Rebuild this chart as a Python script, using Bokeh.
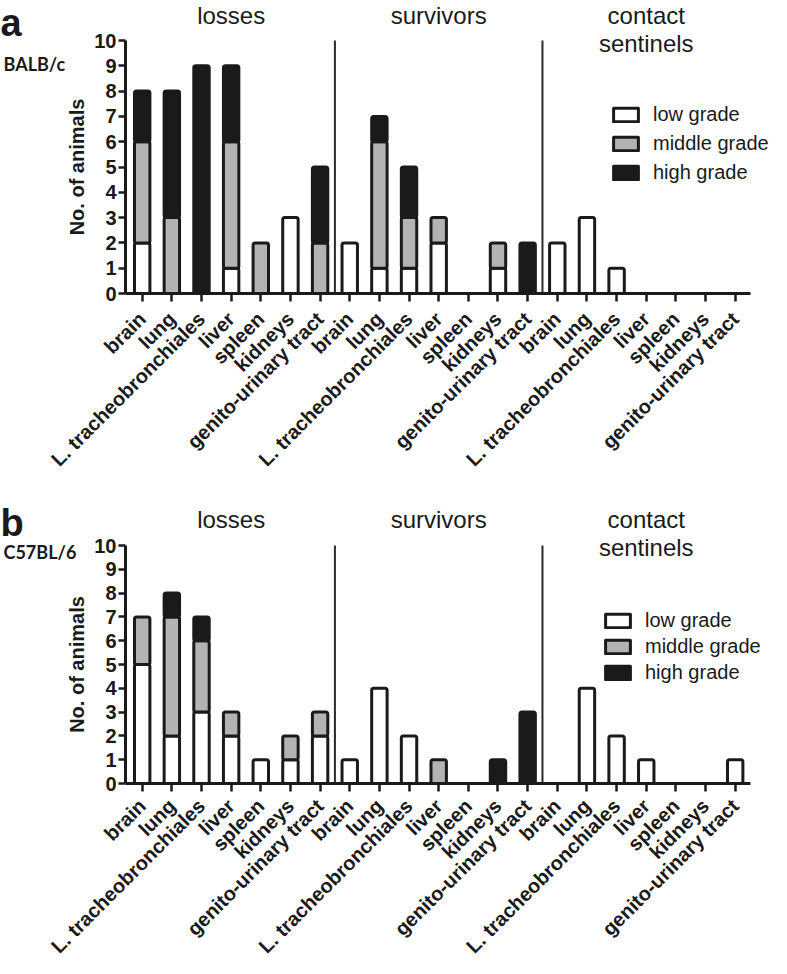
import numpy as np
from math import pi
from bokeh.plotting import figure
from bokeh.layouts import column
from bokeh.models import Range1d, FixedTicker, Label, Legend, LegendItem
from bokeh.embed import file_html
from bokeh.resources import INLINE

# ---------------- data ----------------
organs = ["brain", "lung", "L. tracheobronchiales", "liver", "spleen",
          "kidneys", "genito-urinary tract"]
groups = ["losses", "survivors", "contact sentinels"]
grades = ["low grade", "middle grade", "high grade"]

# panel a: BALB/c  (losses | survivors | contact sentinels)
balb_low = [2, 0, 0, 1, 0, 3, 0,   2, 1, 1, 2, 0, 1, 0,   2, 3, 1, 0, 0, 0, 0]
balb_mid = [4, 3, 0, 5, 2, 0, 2,   0, 5, 2, 1, 0, 1, 0,   0, 0, 0, 0, 0, 0, 0]
balb_high = [2, 5, 9, 3, 0, 0, 3,  0, 1, 2, 0, 0, 0, 2,   0, 0, 0, 0, 0, 0, 0]

# panel b: C57BL/6
c57_low = [5, 2, 3, 2, 1, 1, 2,    1, 4, 2, 0, 0, 0, 0,   0, 4, 2, 1, 0, 0, 1]
c57_mid = [2, 5, 3, 1, 0, 1, 1,    0, 0, 0, 1, 0, 0, 0,   0, 0, 0, 0, 0, 0, 0]
c57_high = [0, 1, 1, 0, 0, 0, 0,   0, 0, 0, 0, 0, 1, 3,   0, 0, 0, 0, 0, 0, 0]

y_ticks = list(range(0, 11))

FONT = "Liberation Sans"
INK = "#1a1a1a"
GREY = "#b3b3b3"
WHITE = "#ffffff"

W = 771            # figure width
AXIS_PX = 125      # y-axis position, px from left
PX_PER_CAT = 29.65
X0 = -0.563        # data x at the y axis
X_END = 20.516     # data x where the x-axis line ends


def make_panel(low, mid, high, letter, strain, height, axis_px, y10_px,
               title_px, sent_px, legend_x, legend_bottom_px, legend_spacing,
               letter_px, strain_px, label_standoff):
    n = len(low)
    x = np.arange(n)
    ppu = (axis_px - y10_px) / 10.0

    def ydata(px):
        return (axis_px - px) / ppu

    x_start = X0 - AXIS_PX / PX_PER_CAT
    p = figure(width=W, height=height,
               x_range=Range1d(x_start, x_start + W / PX_PER_CAT),
               y_range=Range1d(ydata(height), ydata(0)),
               output_backend="svg", toolbar_location=None,
               min_border=0, min_border_left=0, min_border_right=0,
               min_border_top=0, min_border_bottom=0)
    p.outline_line_color = None
    p.grid.visible = False
    p.background_fill_color = "white"

    lo = np.array(low, dtype=float)
    mi = np.array(mid, dtype=float)
    hi = np.array(high, dtype=float)
    segs = [(np.zeros(n), lo, WHITE), (lo, lo + mi, GREY), (lo + mi, lo + mi + hi, INK)]
    rends = []
    for bot, top, col in segs:
        keep = top > bot
        r = p.vbar(x=x[keep], bottom=bot[keep], top=top[keep], width=0.52,
                   fill_color=col, line_color=INK, line_width=3,
                   line_join="round", border_radius=2)
        rends.append(r)

    # group separators
    k = len(organs)
    sep = [k * g - 0.5 for g in range(1, len(groups))]
    p.segment(x0=sep, y0=[0] * len(sep), x1=sep, y1=[10] * len(sep),
              line_color="#2a2a2a", line_width=2)

    # axes (drawn at fixed data locations so that no text is clipped)
    xa = p.xaxis[0]
    xa.fixed_location = 0
    xa.bounds = (X0, X_END)
    xa.ticker = FixedTicker(ticks=list(range(n)))
    xa.major_label_overrides = {i: organs[i % k] for i in range(n)}
    xa.major_label_orientation = pi / 4
    xa.major_label_text_font = FONT
    xa.major_label_text_font_style = "bold"
    xa.major_label_text_font_size = "20px"
    xa.major_label_text_color = INK
    xa.major_label_standoff = label_standoff
    xa.axis_line_width = 3
    xa.axis_line_color = INK
    xa.major_tick_line_width = 2.5
    xa.major_tick_line_color = INK
    xa.major_tick_out = 8
    xa.major_tick_in = 0
    xa.minor_tick_line_color = None

    ya = p.yaxis[0]
    ya.fixed_location = X0
    ya.ticker = FixedTicker(ticks=y_ticks)
    ya.bounds = (0, 10)
    ya.axis_label = "No. of animals"
    ya.axis_label_text_font = FONT
    ya.axis_label_text_font_style = "bold"
    ya.axis_label_text_font_size = "20px"
    ya.axis_label_text_color = INK
    ya.axis_label_standoff = 3
    ya.major_label_text_font = FONT
    ya.major_label_text_font_style = "bold"
    ya.major_label_text_font_size = "20px"
    ya.major_label_text_color = INK
    ya.major_label_standoff = 2
    ya.axis_line_width = 3
    ya.axis_line_color = INK
    ya.major_tick_line_width = 2.5
    ya.major_tick_line_color = INK
    ya.major_tick_out = 7
    ya.major_tick_in = 0
    ya.minor_tick_line_color = None

    # group titles
    centers = [k * g + (k - 1) / 2 for g in range(len(groups))]
    for g, c in enumerate(centers):
        words = groups[g].split(" ")
        if len(words) == 1:
            lines = [(words[0], title_px)]
        else:
            lines = [(words[0], title_px), (words[1], sent_px)]
        for txt, px in lines:
            p.add_layout(Label(x=c, y=ydata(px), text=txt, text_font=FONT,
                               text_font_size="24px", text_color=INK,
                               text_align="center", text_baseline="middle"))

    # panel letter and strain
    p.add_layout(Label(x=0, y=height - letter_px, x_units="screen", y_units="screen",
                       text=letter, text_font=FONT, text_font_style="bold",
                       text_font_size="38px", text_color=INK,
                       text_align="left", text_baseline="alphabetic"))
    p.add_layout(Label(x=3, y=height - strain_px, x_units="screen", y_units="screen",
                       text=strain, text_font="Lato", text_font_style="bold",
                       text_font_size="18px", text_color=INK,
                       text_align="left", text_baseline="middle"))

    legend = Legend(items=[LegendItem(label=grades[i], renderers=[rends[i]]) for i in range(3)],
                    location=(legend_x, height - legend_bottom_px), orientation="vertical",
                    glyph_width=31, glyph_height=17, label_standoff=12,
                    spacing=legend_spacing, padding=0, margin=0, label_height=24,
                    border_line_color=None, background_fill_alpha=0,
                    label_text_font=FONT, label_text_font_size="20px",
                    label_text_color=INK)
    p.add_layout(legend)
    return p


TOP_B = 478  # where panel b's figure starts on the page

# panel a: figure y 0..478, axis (y=0) at 293, y=10 at 40
pa = make_panel(balb_low, balb_mid, balb_high, "a", "BALB/c",
                height=TOP_B, axis_px=293, y10_px=40,
                title_px=15, sent_px=43, legend_x=610, legend_bottom_px=184,
                legend_spacing=5, letter_px=22, strain_px=63, label_standoff=14)
# panel b: figure y 478..958, axis at page 783, y=10 at page 545
pb = make_panel(c57_low, c57_mid, c57_high, "b", "C57BL/6",
                height=958 - TOP_B, axis_px=783 - TOP_B, y10_px=545 - TOP_B,
                title_px=519 - TOP_B, sent_px=547 - TOP_B, legend_x=602,
                legend_bottom_px=684 - TOP_B, legend_spacing=2,
                letter_px=522 - TOP_B, strain_px=551 - TOP_B, label_standoff=11)

layout = column(pa, pb, spacing=0)
open("out.html", "w").write(file_html(layout, INLINE))
